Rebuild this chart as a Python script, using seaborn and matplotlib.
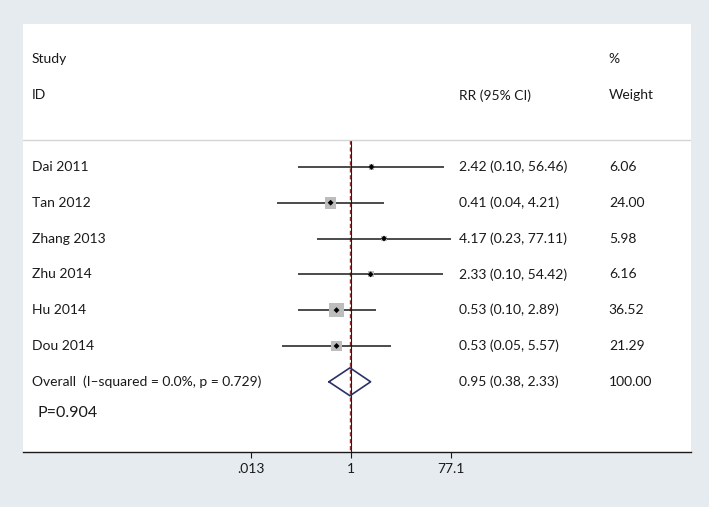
# Forest plot: RR (95% CI) by study

import numpy as np
import matplotlib
matplotlib.use("Agg")
import matplotlib.pyplot as plt
import seaborn as sns

# data
studies = ["Dai 2011", "Tan 2012", "Zhang 2013", "Zhu 2014", "Hu 2014", "Dou 2014"]
rr = [2.42, 0.41, 4.17, 2.33, 0.53, 0.53]
ci_low = [0.10, 0.04, 0.23, 0.10, 0.10, 0.05]
ci_high = [56.46, 4.21, 77.11, 54.42, 2.89, 5.57]
weights = [6.06, 24.00, 5.98, 6.16, 36.52, 21.29]
overall_rr, overall_low, overall_high = 0.95, 0.38, 2.33
overall_weight = 100.00
overall_label = "Overall  (I\u2013squared = 0.0%, p = 0.729)"
p_label = "P=0.904"
tick_vals = [0.013, 1, 77.1]
tick_labels = [".013", "1", "77.1"]

sns.set_theme(style="white")
plt.rcParams["font.family"] = ["Lato", "DejaVu Sans"]
plt.rcParams["text.color"] = "#1a1a1a"

fig = plt.figure(figsize=(7.09, 5.07), dpi=100)
fig.patch.set_facecolor("#e5ebee")
ax = fig.add_axes([23 / 709, 55 / 507, 668 / 709, 428 / 507])
ax.set_facecolor("white")

rows = np.arange(1, len(studies) + 1)
overall_row = len(studies) + 1

# confidence interval lines
ax.hlines(rows, ci_low, ci_high, color="#1a1a1a", linewidth=1.1, zorder=2)

# weight boxes and point estimates
sns.scatterplot(x=rr, y=rows, marker="s", s=np.array(weights) * 2.9,
                color="#bdbdbd", edgecolor="none", legend=False, ax=ax, zorder=3)
sns.scatterplot(x=rr, y=rows, marker="D", s=9, color="black",
                edgecolor="none", legend=False, ax=ax, zorder=4)

# null line and overall effect line
ax.vlines(1, 0.25, 9, color="#1a1a1a", linewidth=0.8, zorder=1)
ax.vlines(overall_rr, 0.25, 9, color="#8b3030", linewidth=1.0,
          linestyles=(0, (3, 2)), zorder=1)

# overall diamond
dx = [overall_low, overall_rr, overall_high, overall_rr, overall_low]
dy = [overall_row, overall_row - 0.39, overall_row, overall_row + 0.39, overall_row]
ax.plot(dx, dy, color="#2b3165", linewidth=1.2, zorder=4)

# header separator
ax.axhline(0.25, color="#d4d4d4", linewidth=1.0)

ax.set_xscale("log")
ax.set_xlim(6.4e-7, 2.6e6)
ax.set_ylim(8.96, -2.99)
ax.set_xticks(tick_vals)
ax.set_xticklabels(tick_labels)
ax.minorticks_off()
ax.set_yticks([])
for side in ["top", "left", "right"]:
    ax.spines[side].set_visible(False)
ax.spines["bottom"].set_color("#1a1a1a")
ax.spines["bottom"].set_linewidth(1.0)
ax.tick_params(axis="x", bottom=True, length=4, width=0.8, color="#1a1a1a",
               labelsize=10, labelcolor="#1a1a1a", pad=4)

tr = ax.get_yaxis_transform()
fs = 10
x_lab, x_rr, x_wt = 0.0135, 0.653, 0.877

ax.text(x_lab, -2, "Study", transform=tr, fontsize=fs, va="center")
ax.text(x_lab, -1, "ID", transform=tr, fontsize=fs, va="center")
ax.text(x_rr, -1, "RR (95% CI)", transform=tr, fontsize=fs, va="center")
ax.text(x_wt, -2, "%", transform=tr, fontsize=fs, va="center")
ax.text(x_wt, -1, "Weight", transform=tr, fontsize=fs, va="center")

for r, name, e, lo, hi, w in zip(rows, studies, rr, ci_low, ci_high, weights):
    ax.text(x_lab, r, name, transform=tr, fontsize=fs, va="center")
    ax.text(x_rr, r, f"{e:.2f} ({lo:.2f}, {hi:.2f})", transform=tr, fontsize=fs, va="center")
    ax.text(x_wt, r, f"{w:.2f}", transform=tr, fontsize=fs, va="center")

ax.text(x_lab, overall_row, overall_label, transform=tr, fontsize=fs, va="center")
ax.text(x_rr, overall_row,
        f"{overall_rr:.2f} ({overall_low:.2f}, {overall_high:.2f})",
        transform=tr, fontsize=fs, va="center")
ax.text(x_wt, overall_row, f"{overall_weight:.2f}", transform=tr, fontsize=fs, va="center")

ax.text(0.022, 7.87, p_label, transform=tr, fontsize=11.5, va="center")

fig.savefig("out.png", dpi=100, facecolor=fig.get_facecolor())
